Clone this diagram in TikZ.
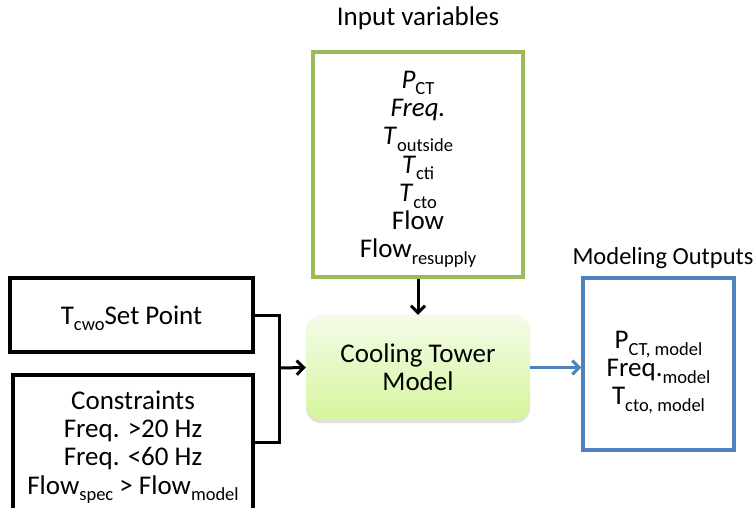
\documentclass[tikz,border=0pt]{standalone}
\usepackage{fontspec}
\setmainfont{Carlito}
\usetikzlibrary{arrows.meta,shadows}
\newcommand\sbs[1]{\raisebox{-0.25em}[0pt][0pt]{\fontsize{18.5}{18.5}\selectfont #1}}
\definecolor{ingreen}{HTML}{9BBB59}
\definecolor{outblue}{HTML}{4F81BD}
\definecolor{mtop}{HTML}{F4FCE8}
\definecolor{mbot}{HTML}{D6F59E}
\begin{document}
\begin{tikzpicture}[x=1pt,y=-1pt,
  txt/.style={font=\fontsize{27}{28.3}\selectfont, align=center, inner sep=0pt},
  blackbox/.style={draw=black, line width=3.2pt, inner sep=0pt, txt},
  conn/.style={line width=3pt, draw=black},
  tip/.style={-{Straight Barb[length=7pt,width=14pt,line width=3pt]}}]
\useasboundingbox (0,0) rectangle (755,508);
\fill[white] (0,0) rectangle (755,508);

\node[txt] (intitle) at (418,18) {Input variables};
\node[draw=ingreen, line width=3.2pt, minimum width=210pt, minimum height=225pt, txt] (inbox) at (418,164.5)
  {\textit{P}\sbs{CT}\\ \textit{Freq.}\\ \textit{T}\sbs{outside}\\ \textit{T}\sbs{cti}\\ \textit{T}\sbs{cto}\\ Flow\\ Flow\sbs{resupply}};

\node[rounded corners=15pt, minimum width=224pt, minimum height=105pt, top color=mtop, bottom color=mbot, draw=none,
  drop shadow={shadow xshift=0pt, shadow yshift=-3pt, opacity=0.25}, txt] (model) at (418,367.5)
  {Cooling Tower\\ Model};

\node[blackbox, minimum width=243pt, minimum height=74pt] (tcwo) at (131.5,315) {T\sbs{cwo}Set Point};
\node[blackbox, minimum width=240pt, minimum height=135pt] (cons) at (133,442.5)
  {Constraints\\ Freq. {>}20 Hz\\ Freq. {<}60 Hz\\ Flow\sbs{spec} {>} Flow\sbs{model}};

\node[font=\fontsize{24.5}{26}\selectfont, inner sep=0pt] (outtitle) at (663,258) {Modeling Outputs};
\node[draw=outblue, line width=3.2pt, minimum width=151pt, minimum height=172pt] (outbox) at (658.5,364) {};
\node[txt] (outtxt) at (658.5,368) {P\sbs{CT, model}\\ Freq.\sbs{model}\\ T\sbs{cto, model}};

\coordinate (j) at (279,368);
\draw[conn] (tcwo.east) -| (j);
\draw[conn] (cons.east) -| (j);
\draw[conn, tip] (j) -- (model.west);
\draw[conn, tip] (inbox.south) -- (model.north);
\draw[line width=3pt, draw=outblue, -{Straight Barb[length=7pt,width=14pt,line width=3pt]}] (model.east) -- (model.east -| outbox.west);
\end{tikzpicture}
\end{document}
